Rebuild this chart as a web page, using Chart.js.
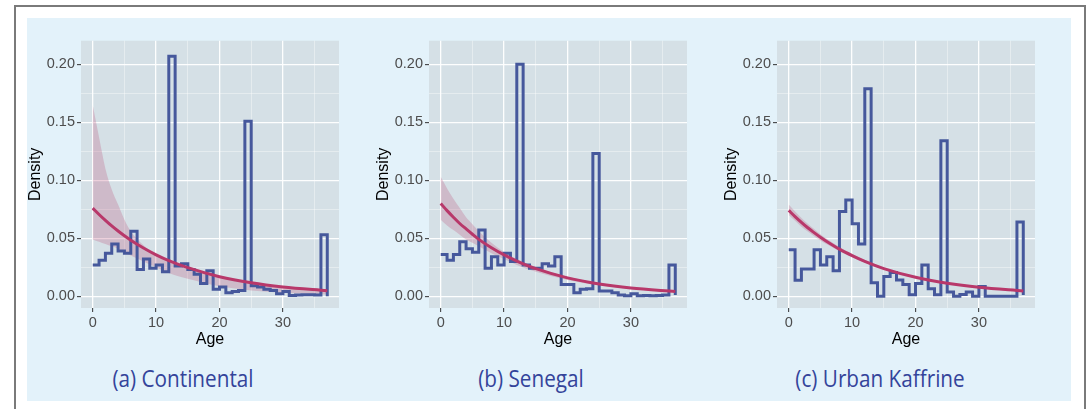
<!DOCTYPE html>
<html>
<head>
<meta charset="utf-8">
<script src="https://cdn.jsdelivr.net/npm/chart.js@4.4.1/dist/chart.umd.min.js"></script>
<style>
body { margin: 0; background: #fff; width: 1086px; height: 409px; overflow: hidden; position: relative; }
#frame { position: absolute; left: 14px; top: 5px; width: 1072px; height: 420px; box-sizing: border-box; border: 2px solid #7a7a7a; border-bottom: none; }
#bg { position: absolute; left: 27px; top: 18px; width: 1044px; height: 383px; background: #e3f2fa; }
canvas { position: absolute; top: 30px; }
.cap { position: absolute; top: 362px; width: 330px; text-align: center; font-family: "Open Sans", sans-serif; font-size: 23px; color: #34449a; transform: scaleX(0.9); }
</style>
</head>
<body>
<div id="frame"></div>
<div id="bg"></div>
<canvas id="chartA" width="325" height="325" style="left:20px"></canvas>
<canvas id="chartB" width="325" height="325" style="left:368px"></canvas>
<canvas id="chartC" width="325" height="325" style="left:716px"></canvas>
<div class="cap" id="capA" style="left:18px"></div>
<div class="cap" id="capB" style="left:366px"></div>
<div class="cap" id="capC" style="left:715px"></div>
<script>
// Data
const captions = ['(a) Continental', '(b) Senegal', '(c) Urban Kaffrine'];
const xTicks = [0, 5, 10, 15, 20, 25, 30, 35];
const yTicks = [0, 0.025, 0.05, 0.075, 0.1, 0.125, 0.15, 0.175, 0.2];

// histogram bin edges (1-year bins), last point closes the step
const ageEdges = [0, 1, 2, 3, 4, 5, 6, 7, 8, 9, 10, 11, 12, 13, 14, 15, 16, 17, 18, 19,
                  20, 21, 22, 23, 24, 25, 26, 27, 28, 29, 30, 31, 32, 33, 34, 35, 36, 37];

const histContinental = [0.027, 0.031, 0.037, 0.045, 0.039, 0.037, 0.056, 0.023, 0.032, 0.024,
                         0.027, 0.021, 0.207, 0.026, 0.028, 0.023, 0.019, 0.011, 0.022, 0.006,
                         0.008, 0.003, 0.004, 0.005, 0.151, 0.009, 0.008, 0.006, 0.005, 0.002,
                         0.004, 0.0005, 0.001, 0.0013, 0.0013, 0.001, 0.053, 0.0];
const histSenegal = [0.036, 0.031, 0.036, 0.047, 0.041, 0.038, 0.057, 0.024, 0.034, 0.027,
                     0.037, 0.030, 0.200, 0.027, 0.024, 0.024, 0.028, 0.026, 0.034, 0.010,
                     0.010, 0.003, 0.006, 0.0065, 0.123, 0.0045, 0.0045, 0.003, 0.001, 0.0003,
                     0.002, 0.0004, 0.0005, 0.0004, 0.0005, 0.001, 0.027, 0.001];
const histKaffrine = [0.040, 0.0137, 0.0235, 0.0235, 0.040, 0.027, 0.034, 0.022, 0.073, 0.083,
                      0.0625, 0.045, 0.179, 0.0115, 0.0, 0.017, 0.0205, 0.014, 0.010, 0.0012,
                      0.011, 0.027, 0.0065, 0.0012, 0.134, 0.0035, 0.0, 0.0014, 0.0035, 0.0,
                      0.0083, 0.0, 0.0, 0.0, 0.0, 0.0, 0.064, 0.001];

// fitted curve + band
const fitAges = [0, 1, 2, 3, 4, 5, 6, 8, 10, 12, 15, 20, 25, 30, 37];
const fitContinental = [0.076, 0.0705, 0.0654, 0.0606, 0.0562, 0.0521, 0.0483, 0.0416, 0.0357, 0.0307, 0.0246, 0.0168, 0.0115, 0.0079, 0.0047];
const hiContinental  = [0.165, 0.137, 0.110, 0.092, 0.079, 0.066, 0.056, 0.044, 0.036, 0.030, 0.024, 0.0165, 0.0115, 0.0082, 0.006];
const loContinental  = [0.049, 0.047, 0.045, 0.043, 0.041, 0.038, 0.035, 0.030, 0.025, 0.020, 0.015, 0.0085, 0.005, 0.003, 0.0015];

const fitSenegal = [0.080, 0.0738, 0.0681, 0.0627, 0.058, 0.0534, 0.049, 0.0418, 0.0356, 0.0303, 0.0237, 0.0158, 0.0105, 0.0070, 0.0040];
const hiSenegal  = [0.103, 0.093, 0.084, 0.076, 0.068, 0.062, 0.056, 0.046, 0.038, 0.032, 0.025, 0.0168, 0.0113, 0.0076, 0.0045];
const loSenegal  = [0.066, 0.061, 0.057, 0.053, 0.049, 0.046, 0.043, 0.037, 0.032, 0.027, 0.021, 0.0140, 0.0094, 0.0062, 0.0035];

const fitKaffrine = [0.074, 0.0687, 0.0637, 0.059, 0.0548, 0.0508, 0.0472, 0.0406, 0.035, 0.030, 0.0238, 0.0163, 0.0112, 0.0077, 0.0045];
const hiKaffrine  = [0.079, 0.073, 0.0675, 0.0625, 0.058, 0.0535, 0.0495, 0.0425, 0.0365, 0.0312, 0.0246, 0.0168, 0.0116, 0.008, 0.0048];
const loKaffrine  = [0.070, 0.065, 0.060, 0.0557, 0.0517, 0.048, 0.0448, 0.0387, 0.0335, 0.0288, 0.023, 0.0158, 0.0108, 0.0074, 0.0042];

const COLORS = {
    panel: '#d5e0e6',
    hist: '#46589c',
    fit: '#b8386a',
    band: 'rgba(180, 50, 100, 0.22)',
    tickText: '#4d4d4d',
    tickMark: '#333333'
};

const panelBg = {
    id: 'panelBg',
    beforeDraw(chart) {
        const { ctx, chartArea: a } = chart;
        ctx.save();
        ctx.fillStyle = COLORS.panel;
        ctx.fillRect(a.left, a.top, a.right - a.left, a.bottom - a.top);
        ctx.restore();
    }
};

function pts(xs, ys) {
    return xs.map((x, i) => ({ x: x, y: ys[i] }));
}

const isMajorX = v => v % 10 === 0;
const isMajorY = v => Math.round(v * 1000) % 50 === 0;

function gridOpts(isMajor) {
    return {
        color: c => isMajor(c.tick.value) ? 'rgba(255,255,255,0.95)' : 'rgba(255,255,255,0.55)',
        lineWidth: c => isMajor(c.tick.value) ? 1.3 : 0.7,
        tickColor: c => isMajor(c.tick.value) ? COLORS.tickMark : 'rgba(0,0,0,0)',
        tickLength: 4,
        tickWidth: 1
    };
}

function makeChart(id, hist, fit, hi, lo) {
    return new Chart(document.getElementById(id), {
        type: 'line',
        data: {
            datasets: [
                { data: pts(fitAges, fit), borderColor: COLORS.fit, borderWidth: 3, pointRadius: 0,
                  cubicInterpolationMode: 'monotone', fill: false, order: 0 },
                { data: pts(ageEdges, hist), borderColor: COLORS.hist, borderWidth: 3, pointRadius: 0,
                  stepped: true, fill: false, order: 1, borderJoinStyle: 'miter' },
                { data: pts(fitAges, hi), borderWidth: 0, pointRadius: 0, cubicInterpolationMode: 'monotone',
                  backgroundColor: COLORS.band, fill: '+1', order: 2 },
                { data: pts(fitAges, lo), borderWidth: 0, pointRadius: 0, cubicInterpolationMode: 'monotone',
                  fill: false, order: 3 }
            ]
        },
        options: {
            responsive: false,
            animation: false,
            devicePixelRatio: 1,
            layout: { padding: { left: 0, right: 6, top: 7, bottom: 0 } },
            plugins: { legend: { display: false }, tooltip: { enabled: false } },
            scales: {
                x: {
                    type: 'linear',
                    min: -1.85,
                    max: 38.85,
                    afterBuildTicks: s => { s.ticks = xTicks.map(v => ({ value: v })); },
                    afterFit: s => { s.height = 47; },
                    ticks: {
                        callback: v => isMajorX(v) ? String(v) : '',
                        color: COLORS.tickText,
                        font: { family: 'Liberation Sans', size: 14.5 },
                        padding: 2,
                        maxRotation: 0,
                        autoSkip: false
                    },
                    grid: gridOpts(isMajorX),
                    border: { display: false },
                    title: {
                        display: true, text: 'Age', color: '#000',
                        font: { family: 'Liberation Sans', size: 16 },
                        padding: { top: 0, bottom: 6 }
                    }
                },
                y: {
                    min: -0.0102,
                    max: 0.2204,
                    afterBuildTicks: s => { s.ticks = yTicks.map(v => ({ value: v })); },
                    afterFit: s => { s.width = 61; },
                    ticks: {
                        callback: v => isMajorY(v) ? v.toFixed(2) : '',
                        color: COLORS.tickText,
                        font: { family: 'Liberation Sans', size: 14.5 },
                        padding: 2,
                        autoSkip: false
                    },
                    grid: gridOpts(isMajorY),
                    border: { display: false },
                    title: {
                        display: true, text: 'Density', color: '#000',
                        font: { family: 'Liberation Sans', size: 16 },
                        padding: { top: 6, bottom: 0 }
                    }
                }
            }
        },
        plugins: [panelBg]
    });
}

makeChart('chartA', histContinental, fitContinental, hiContinental, loContinental);
makeChart('chartB', histSenegal, fitSenegal, hiSenegal, loSenegal);
makeChart('chartC', histKaffrine, fitKaffrine, hiKaffrine, loKaffrine);

document.getElementById('capA').textContent = captions[0];
document.getElementById('capB').textContent = captions[1];
document.getElementById('capC').textContent = captions[2];
</script>
</body>
</html>
